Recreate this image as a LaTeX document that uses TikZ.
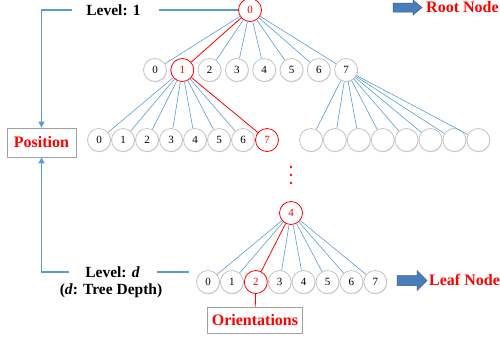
\documentclass[tikz,border=0pt]{standalone}
\usepackage{fontspec}
\setmainfont{Liberation Serif}
\usetikzlibrary{arrows.meta,shadows}
\definecolor{lblue}{RGB}{91,155,213}
\definecolor{ablue}{RGB}{74,126,187}
\definecolor{aborder}{RGB}{56,93,138}
\definecolor{cgray}{RGB}{195,195,195}
\begin{document}
\begin{tikzpicture}[x=1pt,y=-1pt,
  nd/.style={circle,draw=cgray,line width=0.8pt,fill=white,minimum size=23pt,inner sep=0pt,
    font=\fontsize{11}{13}\selectfont,
    drop shadow={shadow xshift=0.5pt,shadow yshift=-0.8pt,opacity=0.25,fill=gray}},
  rnd/.style={circle,draw=red,line width=0.8pt,fill=white,text=red,minimum size=23pt,inner sep=0pt,
    font=\fontsize{11}{13}\selectfont},
  edge/.style={lblue,line width=0.6pt},
  redge/.style={red,line width=0.8pt},
  lbl/.style={inner sep=0pt,font=\bfseries\fontsize{15.5}{18}\selectfont},
  tbox/.style={draw=gray!75,line width=0.8pt,fill=white,text=red,inner sep=0pt,
    font=\bfseries\fontsize{16}{18}\selectfont},
  barrow/.style={fill=ablue,draw=aborder,line width=0.5pt,line join=miter},
  lead/.style={lblue,line width=1.5pt},
  rlbl/.style={text=red,inner sep=0pt,anchor=west,font=\bfseries\fontsize{16}{18}\selectfont}
]
\useasboundingbox (0,0) rectangle (500,341);

% root
\node[rnd] (root) at (250,10) {0};
% level 1
\foreach \i in {0,...,7}{
  \pgfmathsetmacro{\xx}{155+27.3*\i}
  \ifnum\i=1
    \node[rnd] (a\i) at (\xx,70) {\i};
  \else
    \node[nd] (a\i) at (\xx,70) {\i};
  \fi
}
% level 2 left
\foreach \i in {0,...,7}{
  \pgfmathsetmacro{\xx}{99+24*\i}
  \ifnum\i=7
    \node[rnd] (b\i) at (\xx,140) {\i};
  \else
    \node[nd] (b\i) at (\xx,140) {\i};
  \fi
}
% level 2 right
\foreach \i in {0,...,7}{
  \pgfmathsetmacro{\xx}{311+23.9*\i}
  \node[nd] (c\i) at (\xx,140) {};
}
% node 4
\node[rnd] (d4) at (291,213) {4};
% leaves
\foreach \i in {0,...,7}{
  \pgfmathsetmacro{\xx}{208+23.9*\i}
  \ifnum\i=2
    \node[rnd] (e\i) at (\xx,282) {\i};
  \else
    \node[nd] (e\i) at (\xx,282) {\i};
  \fi
}

% edges
\foreach \i in {0,2,3,4,5,6,7} \draw[edge] (root) -- (a\i);
\draw[redge] (root) -- (a1);
\foreach \i in {0,...,6} \draw[edge] (a1) -- (b\i);
\draw[redge] (a1) -- (b7);
\foreach \i in {0,...,7} \draw[edge] (a7) -- (c\i);
\foreach \i in {0,1,3,4,5,6,7} \draw[edge] (d4) -- (e\i);
\draw[redge] (d4) -- (e2);

% dots
\foreach \yy in {167,175,183} \fill[red] (291,\yy) circle (1.3pt);

% boxes
\node[tbox,minimum width=69pt,minimum height=29pt] (pos) at (41.5,142.5) {Position};
\node[tbox,minimum width=95pt,minimum height=26pt] (ori) at (255,320) {Orientations};
\draw[redge] (e2) -- (ori);

% level labels
\node[lbl] (lvl1) at (113.5,10) {Level: 1};
\node[lbl] (lvld) at (112.5,272) {Level: \textit{d}};
\node[lbl] (depth) at (111,291) {(\textit{d}: Tree Depth)};
\coordinate (lend) at (189,272);

\draw[lead,-{Triangle[length=6pt,width=6pt]},shorten <=14pt] (lvl1.west) -| (pos.north);
\draw[lead,shorten <=18pt] (lvl1.east) -- (root);
\draw[lead,-{Triangle[length=6pt,width=6pt]},shorten <=16pt] (lvld.west) -| (pos.south);
\draw[lead,shorten <=17pt] (lvld.east) -- (lend);

% block arrows
\draw[barrow] (393,3) -- (413,3) -- (413,0) -- (422,7.5) -- (413,15) -- (413,12) -- (393,12) -- cycle;
\node[rlbl] (rt) at (426,7) {Root Node};
\draw[barrow] (397,275.5) -- (417,275.5) -- (417,270.5) -- (427,280.5) -- (417,290.5) -- (417,285.5) -- (397,285.5) -- cycle;
\node[rlbl] (lt) at (429,280) {Leaf Node};
\end{tikzpicture}
\end{document}
